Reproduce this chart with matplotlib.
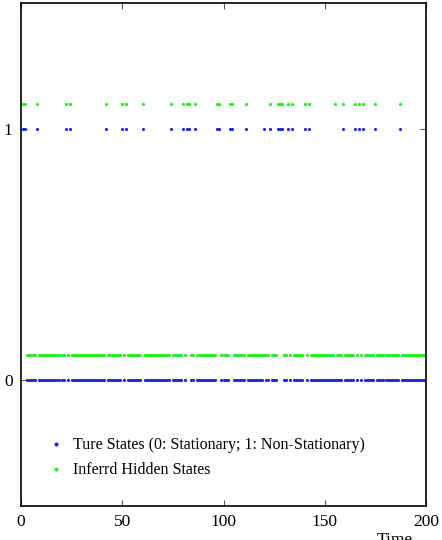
import numpy as np
import matplotlib
matplotlib.use("Agg")
import matplotlib.pyplot as plt

plt.rcParams['font.family'] = ['Liberation Serif', 'DejaVu Serif']

time = np.arange(1, 200)
true_nonstationary = [1, 2, 8, 22, 24, 42, 50, 52, 60, 74, 80, 82, 83, 86, 97, 98,
                      103, 104, 111, 120, 123, 127, 128, 129, 132, 134, 140, 142,
                      159, 165, 167, 169, 175, 187]
inferred_nonstationary = [1, 2, 8, 22, 24, 42, 50, 52, 60, 74, 80, 82, 83, 86, 97, 98,
                          103, 104, 111, 123, 127, 128, 129, 132, 134, 140, 142,
                          155, 159, 165, 167, 169, 175, 187]
inferred_offset = 0.1

true_states = np.isin(time, true_nonstationary).astype(float)
inferred_states = np.isin(time, inferred_nonstationary).astype(float)

fig = plt.figure(figsize=(4.42, 5.4), dpi=100)
ax = fig.add_axes([21/442, 1-506/540, 405/442, 503/540])

ax.plot(time, true_states, linestyle='none', marker='.', markersize=2.5,
        color='#2222dd', label='Ture States (0: Stationary; 1: Non-Stationary)')
ax.plot(time, inferred_states + inferred_offset, linestyle='none', marker='.',
        markersize=2.5, color='#22ee22', label='Inferrd Hidden States')

ax.set_xlim(0, 200)
ax.set_ylim(-0.5, 1.5)
ax.set_xticks([0, 50, 100, 150, 200])
ax.set_yticks([0, 1])
ax.tick_params(direction='in', top=True, right=True, length=4, color='#555555',
               labelsize=12.5, pad=6)
for s in ax.spines.values():
    s.set_linewidth(1.2)

ax.legend(loc='upper left', bbox_to_anchor=(0.03, 0.165), frameon=False,
          fontsize=11.5, markerscale=1.5, handlelength=1.0, handletextpad=0.6,
          labelspacing=0.55)

fig.text(395/442, 1-532/540, 'Time', ha='center', va='top', fontsize=12.5)

fig.savefig('out.png', dpi=100)
